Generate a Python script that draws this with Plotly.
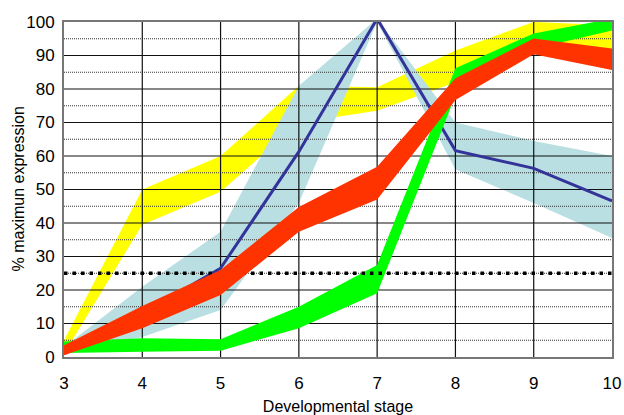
import plotly.graph_objects as go

stages = [3, 4, 5, 6, 7, 8, 9, 10]

yellow_upper = [5, 50, 60, 81, 80.5, 91.5, 100, 99]
yellow_lower = [1, 39.5, 49.3, 70, 73.5, 82, 91, 90]

lightblue_upper = [3, 21, 37.4, 81, 101, 70, 64.5, 60]
lightblue_lower = [1, 6, 14, 46, 100, 56, 46, 35.5]

navy_line = [1, 13, 26.5, 61.3, 101, 61.6, 56.3, 46.6]

green_upper = [4.6, 5.6, 5.3, 15, 27.5, 86.2, 96.6, 101]
green_lower = [1.2, 1.6, 1.9, 8.6, 19, 78, 92, 97.5]

red_upper = [3.5, 15.2, 26, 44.8, 56.8, 83.2, 95.1, 92.1]
red_lower = [0.5, 8.6, 18.5, 37.4, 47, 76.7, 90.4, 85.7]

threshold = 25

x_ticks = [3, 4, 5, 6, 7, 8, 9, 10]
y_ticks = [0, 10, 20, 30, 40, 50, 60, 70, 80, 90, 100]
y_minor = [5, 15, 25, 35, 45, 55, 65, 75, 85, 95]

x_title = "Developmental stage"
y_title = "% maximun expression"

YELLOW = "#FFFF00"
LIGHTBLUE = "#B9DFE3"
NAVY = "#333399"
GREEN = "#00FF00"
RED = "#FF3300"


def band(upper, lower, color):
    return go.Scatter(
        x=stages + stages[::-1],
        y=upper + lower[::-1],
        fill="toself",
        fillcolor=color,
        line=dict(width=0, color=color),
        mode="lines",
        hoverinfo="skip",
        showlegend=False,
    )


fig = go.Figure()
fig.add_trace(band(yellow_upper, yellow_lower, YELLOW))
fig.add_trace(band(lightblue_upper, lightblue_lower, LIGHTBLUE))

# grid drawn over the yellow / light blue bands
xmin, xmax = x_ticks[0], x_ticks[-1]
ymin, ymax = y_ticks[0], y_ticks[-1]
gx, gy = [], []
for v in y_minor:
    gx += [xmin, xmax, None]
    gy += [v, v, None]
fig.add_trace(go.Scatter(x=gx, y=gy, mode="lines",
                         line=dict(color="#333333", width=1, dash="1px,1px"),
                         hoverinfo="skip", showlegend=False))
gx, gy = [], []
for v in y_ticks[1:-1]:
    gx += [xmin, xmax, None]
    gy += [v, v, None]
for v in x_ticks[1:-1]:
    gx += [v, v, None]
    gy += [ymin, ymax, None]
fig.add_trace(go.Scatter(x=gx, y=gy, mode="lines",
                         line=dict(color="#111111", width=1.2),
                         hoverinfo="skip", showlegend=False))

fig.add_trace(go.Scatter(x=stages, y=navy_line, mode="lines",
                         line=dict(color=NAVY, width=3),
                         hoverinfo="skip", showlegend=False))
fig.add_trace(band(green_upper, green_lower, GREEN))
fig.add_trace(go.Scatter(x=[xmin, xmax], y=[threshold, threshold], mode="lines",
                         line=dict(color="black", width=3.5, dash="3.5px,5px"),
                         hoverinfo="skip", showlegend=False))
fig.add_trace(band(red_upper, red_lower, RED))

fig.update_layout(
    width=624,
    height=415,
    margin=dict(l=64, r=12, t=22, b=58),
    paper_bgcolor="white",
    plot_bgcolor="white",
    font=dict(family="Liberation Sans, Arial, sans-serif", size=17, color="black"),
    showlegend=False,
    annotations=[
        dict(text=y_title, xref="paper", yref="paper", x=0, y=0.5,
             xanchor="center", yanchor="middle", xshift=-46, textangle=-90,
             showarrow=False, font=dict(size=16)),
    ],
)
fig.update_xaxes(
    range=[xmin, xmax],
    tickvals=x_ticks,
    showgrid=False,
    zeroline=False,
    showline=True,
    linecolor="#777777",
    linewidth=2,
    mirror=True,
    ticks="",
    automargin=False,
    ticklabelstandoff=10,
    title=dict(text=x_title, standoff=11, font=dict(size=16)),
)
fig.update_yaxes(
    range=[ymin, ymax],
    tickvals=y_ticks,
    showgrid=False,
    zeroline=False,
    showline=True,
    linecolor="#777777",
    linewidth=2,
    mirror=True,
    ticks="",
    automargin=False,
    ticklabelstandoff=4,
)

fig.write_html("out.html",
               config={"displayModeBar": False},
               post_script="document.body.style.margin='0';document.body.style.overflow='hidden';")
